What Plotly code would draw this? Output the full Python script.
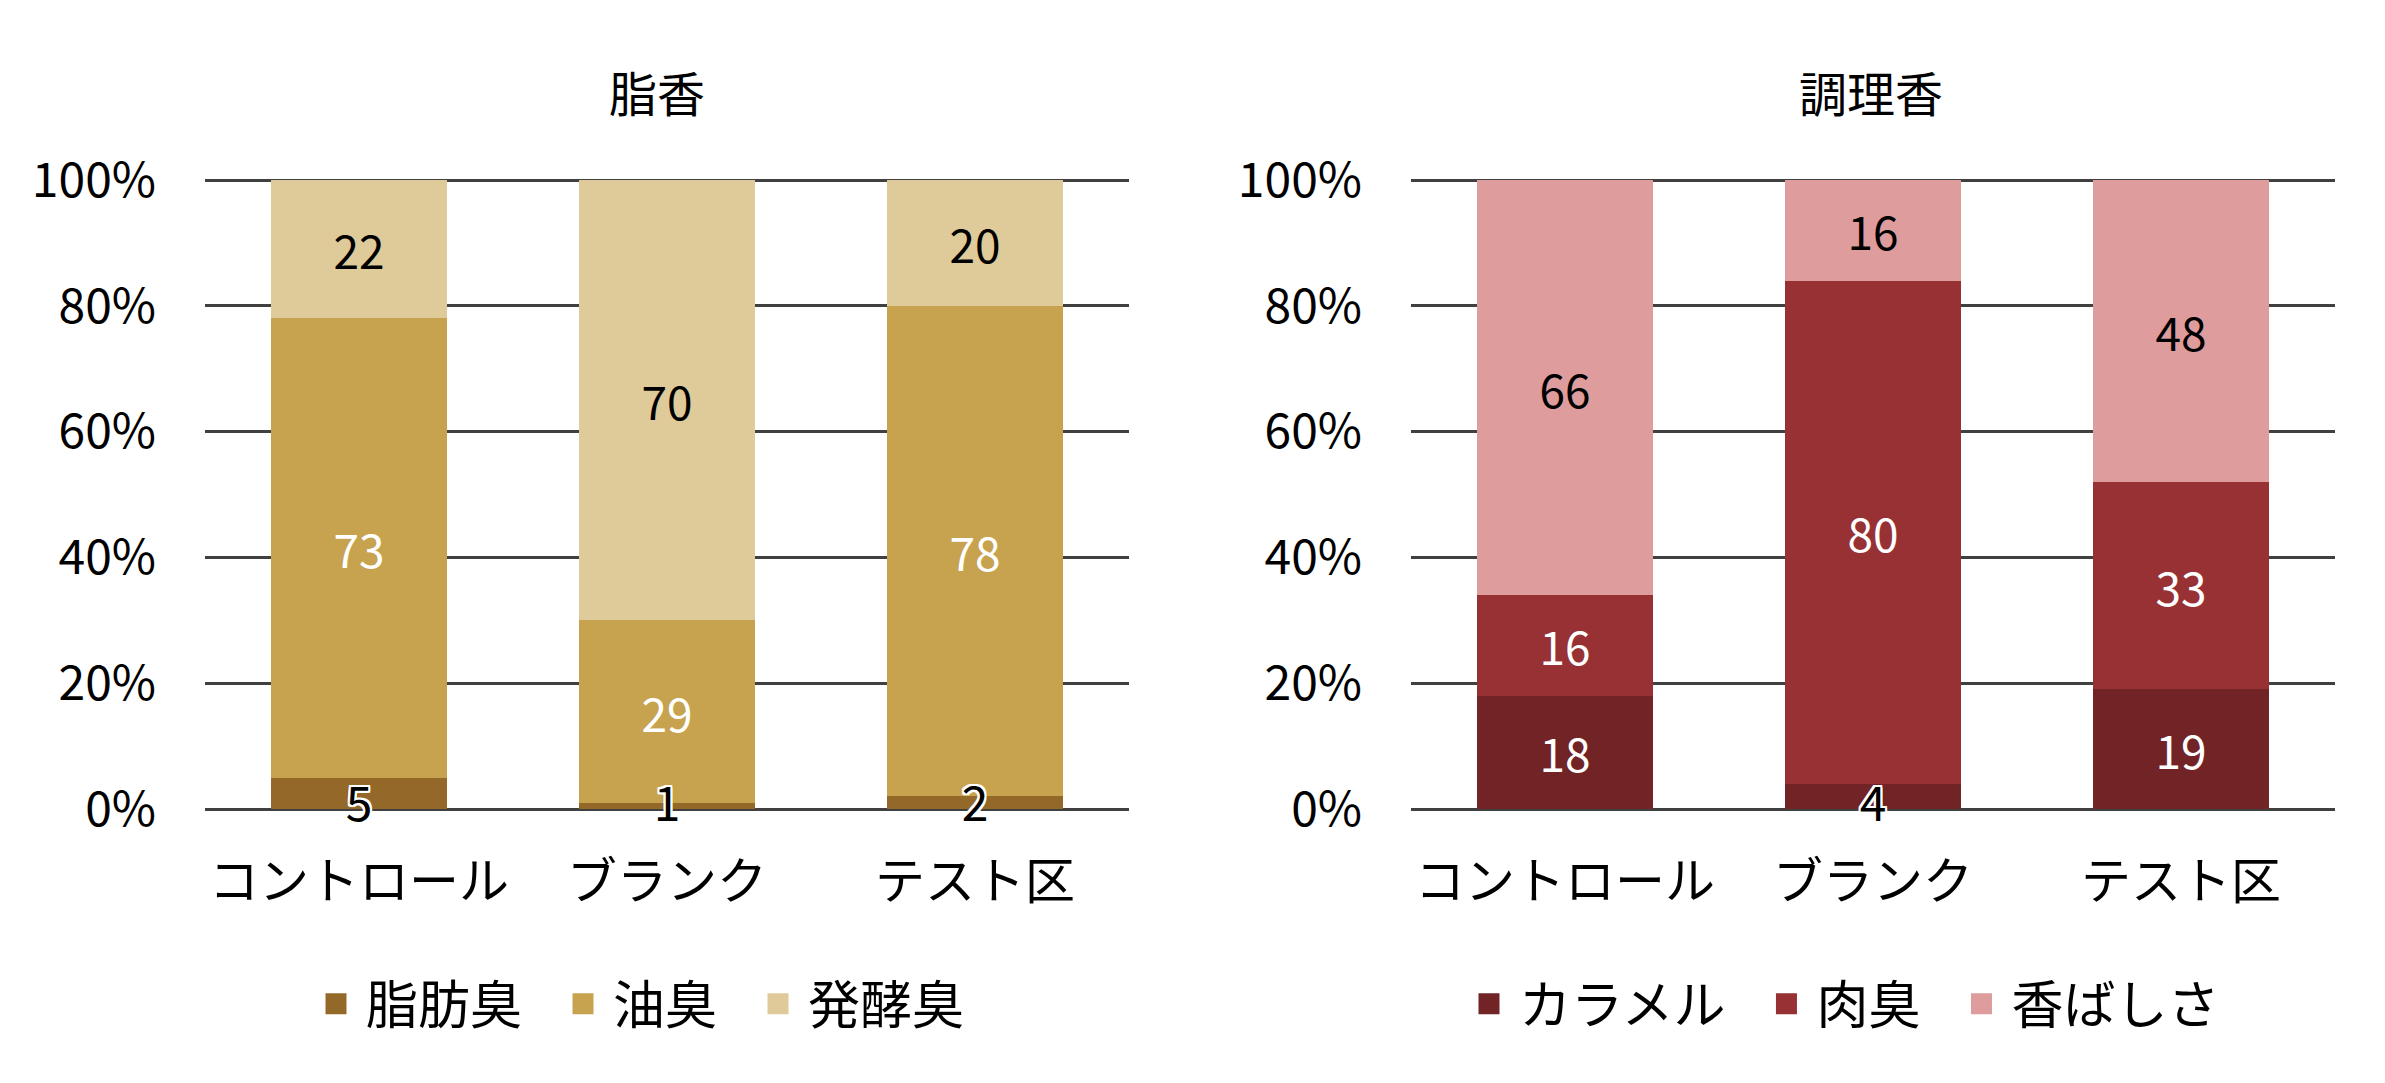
import plotly.graph_objects as go

# categories shared by both panels
categories = ["コントロール", "ブランク", "テスト区"]

# left panel: 脂香
fat_title = "脂香"
fat_names = ["脂肪臭", "油臭", "発酵臭"]
fat_values = [
    [5, 1, 2],
    [73, 29, 78],
    [22, 70, 20],
]
fat_colors = ["#946829", "#C8A34F", "#DFCA99"]

# right panel: 調理香
cook_title = "調理香"
cook_names = ["カラメル", "肉臭", "香ばしさ"]
cook_values = [
    [18, 4, 19],
    [16, 80, 33],
    [66, 16, 48],
]
cook_colors = ["#712326", "#973134", "#DE9C9D"]

y_ticks = [0, 20, 40, 60, 80, 100]
y_ticktext = [f"{v}%" for v in y_ticks]

FONT = "Noto Sans CJK JP"
W, H = 2385, 1083
SMALL = 10  # segments below this get their label on the baseline
label_colors = ["white", "white", "black"]
outline = ("2px 0 0 white, -2px 0 0 white, 0 2px 0 white, 0 -2px 0 white, "
           "2px 2px 0 white, -2px -2px 0 white, 2px -2px 0 white, -2px 2px 0 white")

# plot area in pixels: 0% at y=809, 100% at y=180
top_px, bot_px = 180, 809
pad = 0.4  # a little extra range so the 0% and 100% grid lines are drawn
unit = (bot_px - top_px) / 100
y_domain = [1 - (bot_px + pad * unit) / H, 1 - (top_px - pad * unit) / H]

fig = go.Figure()


def add_panel(values, names, colors, xa, ya, legend):
    for i, (vals, name, col) in enumerate(zip(values, names, colors)):
        txt = [str(v) if v >= SMALL else "" for v in vals]
        fig.add_trace(go.Bar(
            x=categories, y=vals, name=name, marker=dict(color=col, line=dict(width=0)),
            text=txt, textposition="inside", insidetextanchor="middle", textangle=0,
            textfont=dict(color=label_colors[i], size=46, family=FONT),
            xaxis=xa, yaxis=ya, showlegend=False, hoverinfo="skip",
        ))
        # legend swatch (en space widens the gap to the next entry)
        label = name + ("\u2002" if i < len(names) - 1 else "")
        fig.add_trace(go.Scatter(
            x=[None], y=[None], mode="markers", name=label,
            marker=dict(symbol="square", size=16, color=col, line=dict(color=col, width=5)),
            xaxis=xa, yaxis=ya, legend=legend,
        ))
    # baseline labels for tiny segments (first series)
    small = [(c, v) for c, v in zip(categories, values[0]) if v < SMALL]
    fig.add_trace(go.Scatter(
        x=[c for c, _ in small], y=[0 for _ in small], mode="text",
        text=[str(v) for _, v in small], textposition="middle center",
        textfont=dict(color="black", size=48, family=FONT, shadow=outline),
        xaxis=xa, yaxis=ya, showlegend=False, hoverinfo="skip", cliponaxis=False,
    ))


add_panel(fat_values, fat_names, fat_colors, "x", "y", "legend")
add_panel(cook_values, cook_names, cook_colors, "x2", "y2", "legend2")

yaxis_style = dict(
    range=[-pad, 100 + pad], tickvals=y_ticks, ticktext=y_ticktext, showgrid=True,
    gridcolor="#404040", gridwidth=3, zeroline=False, showline=False, automargin=False,
    ticks="", ticklabelstandoff=48, tickfont=dict(size=48, family=FONT, color="black"),
    domain=y_domain,
)
xaxis_style = dict(
    showgrid=False, showline=False, zeroline=False, ticks="", automargin=False,
    ticklabelstandoff=36, tickfont=dict(size=50, family=FONT, color="black"),
)

legend_style = dict(
    orientation="h", xanchor="center", yanchor="middle", y=1 - 1004 / H,
    font=dict(size=52, family=FONT, color="black"), bgcolor="rgba(0,0,0,0)",
    traceorder="normal", itemwidth=50, itemclick=False, itemdoubleclick=False,
)

title_font = dict(size=48, family=FONT, color="black")

fig.update_layout(
    width=W, height=H, margin=dict(l=0, r=0, t=0, b=0, autoexpand=False),
    paper_bgcolor="white", plot_bgcolor="white",
    barmode="stack", bargap=0.43,
    font=dict(family=FONT, color="black"),
    xaxis=dict(domain=[205 / W, 1129 / W], **xaxis_style),
    xaxis2=dict(domain=[1411 / W, 2335 / W], anchor="y2", **xaxis_style),
    yaxis=dict(anchor="x", **yaxis_style),
    yaxis2=dict(anchor="x2", **yaxis_style),
    legend=dict(x=638 / W, **legend_style),
    legend2=dict(x=1842 / W, **legend_style),
    annotations=[
        dict(text=fat_title, x=657 / W, y=1 - 91 / H, xref="paper", yref="paper",
             xanchor="center", yanchor="middle", showarrow=False, font=title_font),
        dict(text=cook_title, x=1871 / W, y=1 - 91 / H, xref="paper", yref="paper",
             xanchor="center", yanchor="middle", showarrow=False, font=title_font),
    ],
)

fig.write_html("out.html", config={"displayModeBar": False},
               post_script="document.body.style.margin='0';")
